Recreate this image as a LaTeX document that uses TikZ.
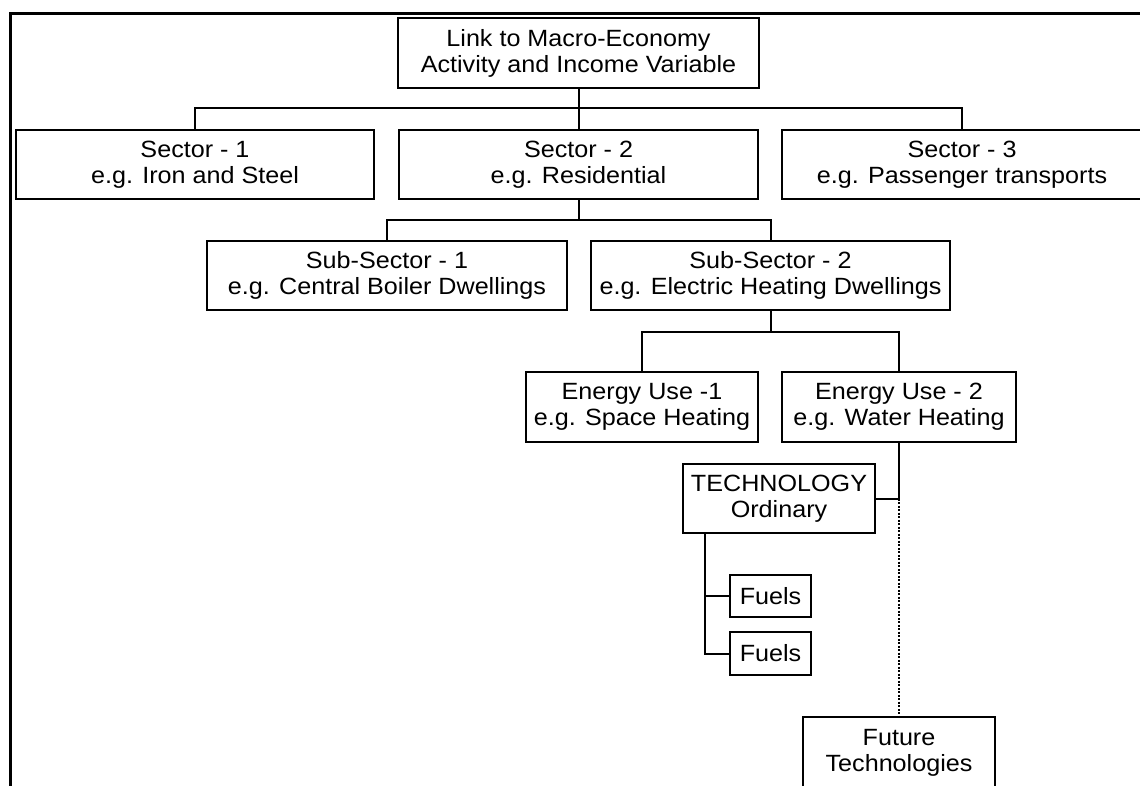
\documentclass[tikz,border=0pt]{standalone}
\usepackage{fontspec}
\setmainfont[FakeStretch=1.07]{Liberation Sans}
\begin{document}
\begin{tikzpicture}[x=1pt,y=-1pt,
  box/.style={draw,line width=2pt,inner sep=0pt,align=center,
              font=\fontsize{23.5}{26}\selectfont},
  link/.style={line width=2pt},
  future/.style={line width=2.2pt,dash pattern=on 2pt off 1.5pt}]
\useasboundingbox (0,0) rectangle (1140,786);
\clip (0,0) rectangle (1140,786);

% outer frame
\draw[line width=3.2pt] (10.5,800) -- (10.5,13.5) -- (1160,13.5);

% hierarchy boxes
\node[box,minimum width=361pt,minimum height=70pt] (macro) at (578.5,53)
  {Link to Macro-Economy\\Activity and Income Variable};

\node[box,minimum width=358pt,minimum height=69pt] (s1) at (195,164.5)
  {Sector - 1\\e.g. Iron and Steel};
\node[box,minimum width=359pt,minimum height=69pt] (s2) at (578.5,164.5)
  {Sector - 2\\e.g. Residential};
\node[box,minimum width=360pt,minimum height=69pt] (s3) at (962,164.5)
  {Sector - 3\\e.g. Passenger transports};

\node[box,minimum width=360pt,minimum height=69pt] (ss1) at (387,275.5)
  {Sub-Sector - 1\\e.g. Central Boiler Dwellings};
\node[box,minimum width=359pt,minimum height=69pt] (ss2) at (770.5,275.5)
  {Sub-Sector - 2\\e.g. Electric Heating Dwellings};

\node[box,minimum width=232pt,minimum height=70pt] (eu1) at (642,407)
  {Energy Use -1\\e.g. Space Heating};
\node[box,minimum width=234pt,minimum height=70pt] (eu2) at (899,407)
  {Energy Use - 2\\e.g. Water Heating};

\node[box,minimum width=192pt,minimum height=69pt] (tech) at (779,498.5)
  {TECHNOLOGY\\Ordinary};

\node[box,minimum width=81pt,minimum height=42pt] (f1) at (770.5,596) {Fuels};
\node[box,minimum width=81pt,minimum height=43pt] (f2) at (770.5,653.5) {Fuels};

\node[box,minimum width=192pt,minimum height=72pt] (ft) at (899,753)
  {Future\\Technologies};

% connectors
\coordinate (bus1) at (578.5,108);
\draw[link] (macro.south) -- (s2.north);
\draw[link] (s1.north) |- (bus1) -| (s3.north);

\coordinate (bus2) at (578.5,220);
\draw[link] (s2.south) -- (bus2);
\draw[link] (ss1.north) |- (bus2) -| (ss2.north);

\coordinate (bus3) at (770.5,332);
\draw[link] (ss2.south) -- (bus3);
\draw[link] (eu1.north) |- (bus3) -| (eu2.north);

\coordinate (junc) at (899,498.5);
\draw[link] (eu2.south) -- (junc);
\draw[link] (tech.east) -- (junc);
\draw[future] (junc) -- (ft.north);

\coordinate (stem) at ([xshift=23pt]tech.south west);
\draw[link] (stem) |- (f2.west);
\draw[link] (stem |- f1.west) -- (f1.west);
\end{tikzpicture}
\end{document}
